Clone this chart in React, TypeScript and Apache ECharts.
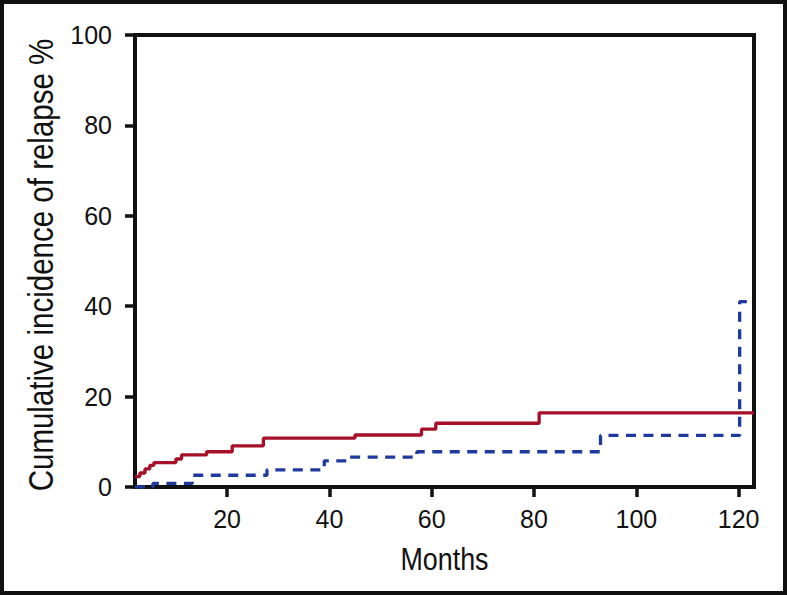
import React, { useEffect, useRef } from "react";
import * as echarts from "echarts";

const xTicks = [20, 40, 60, 80, 100, 120];
const xTitle = "Months";
const yTitle = "Cumulative incidence of relapse %";
const redMonths = [2, 2.95, 3.95, 4.9, 5.7, 10, 11.1, 16, 21, 27.1, 45, 58, 60.8, 81, 123];
const redValues = [2.3, 3.1, 4.0, 4.8, 5.4, 6.2, 7.1, 7.8, 9.1, 10.8, 11.5, 12.8, 14.1, 16.4, 16.4];
const blueMonths = [2, 5.5, 13.2, 27.8, 39, 43.5, 57.1, 93, 120.2, 121.6];
const blueValues = [0, 0.8, 2.6, 3.8, 5.8, 6.6, 7.8, 11.4, 41, 41];

const regular = "'Liberation Sans', Arial, Helvetica, sans-serif";

export default function App() {
  const ref = useRef<HTMLDivElement>(null);
  useEffect(() => {
    document.body.style.margin = "0";
    if (!ref.current) return;
    const chart = echarts.init(ref.current, undefined, { renderer: "svg" });
    const red = redMonths.map((m, i) => [m, redValues[i]]);
    const blue = blueMonths.map((m, i) => [m, blueValues[i]]);
    chart.setOption({
      animation: false,
      backgroundColor: "#fff",
      grid: {
        left: 135,
        top: 35,
        width: 619,
        height: 452,
        show: true,
        borderColor: "#111",
        borderWidth: 4,
        containLabel: false,
        outerBoundsMode: "none",
      },
      xAxis: {
        type: "value",
        min: 2,
        max: 123,
        axisLine: { show: true, onZero: false, lineStyle: { color: "#111", width: 4 } },
        axisTick: { show: true, inside: false, length: 10, lineStyle: { color: "#111", width: 3.5 }, customValues: xTicks },
        axisLabel: { show: true, margin: 19, fontFamily: regular, fontSize: 25, color: "#111", customValues: xTicks },
        splitLine: { show: false },
      },
      yAxis: {
        type: "value",
        min: 0,
        max: 100,
        interval: 20,
        axisLine: { show: true, lineStyle: { color: "#111", width: 4 } },
        axisTick: { show: true, inside: false, length: 10, lineStyle: { color: "#111", width: 3.5 } },
        axisLabel: { show: true, margin: 23, fontFamily: regular, fontSize: 25, color: "#111" },
        splitLine: { show: false },
      },
      series: [
        {
          type: "line",
          step: "end",
          data: red,
          symbol: "none",
          lineStyle: { color: "#A50F27", width: 3.3 },
          z: 3,
        },
        {
          type: "line",
          step: "end",
          data: blue,
          symbol: "none",
          lineStyle: { color: "#1F3A9E", width: 3.3, type: [10, 7.5] },
          z: 4,
        },
      ],
      graphic: [
        {
          type: "rect",
          shape: { x: 2, y: 2, width: 783, height: 591 },
          style: { fill: "none", stroke: "#111", lineWidth: 4 },
          silent: true,
        },
        {
          type: "text",
          x: 40,
          y: 265,
          rotation: Math.PI / 2,
          scaleX: 0.82,
          style: {
            text: yTitle,
            font: "36px " + regular,
            fill: "#111",
            align: "center",
            verticalAlign: "middle",
          },
          silent: true,
        },
        {
          type: "text",
          x: 444.5,
          y: 559,
          scaleX: 0.84,
          style: {
            text: xTitle,
            font: "32px " + regular,
            fill: "#111",
            align: "center",
            verticalAlign: "middle",
          },
          silent: true,
        },
      ],
    });
    return () => chart.dispose();
  }, []);
  return <div ref={ref} style={{ width: 787, height: 595 }} />;
}
